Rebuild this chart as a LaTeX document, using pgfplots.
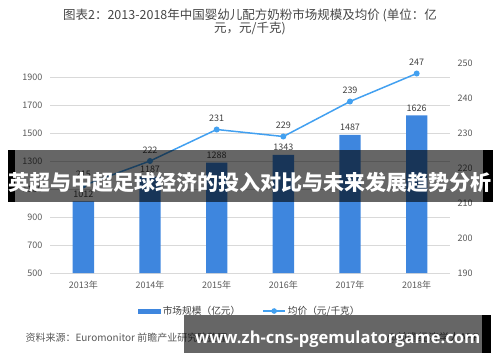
\documentclass[border=0pt]{standalone}
\usepackage{pgfplots}
\pgfplotsset{compat=1.18}
\usepackage{fontspec}
\setmainfont{Noto Sans CJK SC}
\newfontfamily\cjk{Noto Sans CJK SC}
\newfontfamily\opens{Open Sans}
\definecolor{barblue}{RGB}{62,134,222}
\definecolor{lineblue}{RGB}{66,160,240}
\definecolor{gridgray}{RGB}{217,217,217}
\definecolor{ticktext}{RGB}{89,89,89}
\definecolor{labeltext}{RGB}{64,64,64}
\definecolor{titletext}{RGB}{70,70,70}
\begin{document}
\begin{tikzpicture}[x=1pt,y=1pt]
\useasboundingbox (0,0) rectangle (500,362);
\pgfplotsset{
  common/.style={
    at={(50pt,89pt)}, anchor=south west, scale only axis,
    width=400pt, height=210pt, xmin=-0.5, xmax=5.5,
    major tick length=0pt,
    tick label style={font=\fontsize{9}{9}\selectfont, text=ticktext},
    /pgf/number format/assume math mode=true,
    /pgf/number format/1000 sep={},
  }
}
\begin{axis}[common,
  ymin=500, ymax=2000, ytick={500,700,...,1900},
  xtick={0,...,5},
  xticklabels={2013年,2014年,2015年,2016年,2017年,2018年},
  ymajorgrids, grid style={draw=gridgray, line width=0.7pt},
  axis line style={draw=none},
  yticklabel style={xshift=-4pt},
  xticklabel style={yshift=-4pt},
]
\addplot[ybar, bar width=0.32, fill=barblue, draw=none,
  nodes near coords,
  nodes near coords style={font=\fontsize{9}{9}\selectfont, text=labeltext, inner sep=2pt, yshift=2pt}]
  coordinates {(0,1012) (1,1187) (2,1288) (3,1343) (4,1487) (5,1626)};
\end{axis}
\begin{axis}[common,
  ymin=190, ymax=250, ytick={190,200,...,250},
  axis y line*=right, axis x line=none,
  y axis line style={draw=none},
  yticklabel style={xshift=4pt},
  legend columns=2,
  legend style={at={(0.5,-0.181)}, anchor=center, draw=none, fill=none,
    font=\fontsize{9.7}{10}\selectfont, text=labeltext,
    /tikz/every even column/.append style={column sep=20pt},
    inner sep=0pt},
]
\addlegendimage{legend image code/.code={\fill[barblue] (0pt,-2pt) rectangle (22pt,2pt);}}
\addlegendentry{市场规模（亿元）}
\addplot[lineblue, line width=1.5pt, mark=*, mark size=2.2pt,
  mark options={fill=lineblue, draw=lineblue},
  legend image code/.code={\draw[lineblue,line width=1.5pt] (0pt,0pt) -- (22pt,0pt); \fill[lineblue] (11pt,0pt) circle (2pt);},
  nodes near coords,
  nodes near coords style={font=\fontsize{9}{9}\selectfont, text=labeltext, inner sep=2pt, yshift=5pt}]
  coordinates {(0,215) (1,222) (2,231) (3,229) (4,239) (5,247)};
\addlegendentry{均价（元/千克）}
\end{axis}
% title
\node[text=titletext, align=center, font=\fontsize{12.5}{13}\selectfont] at (250,340.5)
  {图表2：2013-2018年中国婴幼儿配方奶粉市场规模及均价 (单位：亿\\元，元/千克)};
% source
\node[anchor=base west, text=ticktext, font=\fontsize{10}{10}\selectfont] at (22,21)
  {资料来源：Euromonitor 前瞻产业研究院整理};
\node[anchor=base east, text=ticktext, font=\fontsize{10.5}{10.5}\selectfont] at (483,21)
  {@前瞻经济学人APP};
% overlay band 1
\fill[black, opacity=0.6] (15,160) rectangle (483,212);
\fill[black] (8,160) rectangle (15,212);
\fill[black] (483,160) rectangle (493,212);
\node[text=white, inner sep=0pt] at (250,179)
  {\resizebox{484pt}{!}{\cjk\bfseries 英超与中超足球经济的投入对比与未来发展趋势分析}};
% overlay band 2
\fill[black, opacity=0.6] (184,9) rectangle (482,47);
\fill[black] (482,9) rectangle (491,47);
\node[text=white, inner sep=0pt, anchor=base west] at (195,19)
  {\resizebox{285pt}{!}{\opens\bfseries www.zh-cns-pgemulatorgame.com}};
\end{tikzpicture}
\end{document}
